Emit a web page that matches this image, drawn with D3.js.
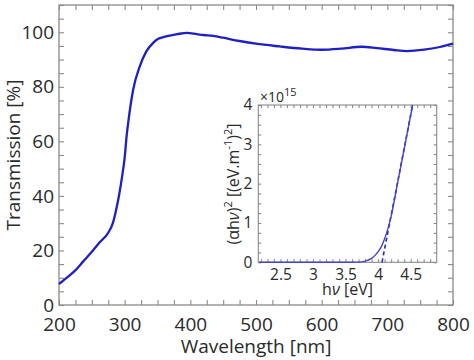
<!DOCTYPE html>
<html><head><meta charset="utf-8">
<script src="https://cdn.jsdelivr.net/npm/d3@7"></script>
<style>body{margin:0;background:#fff}svg{display:block}text{font-family:"Open Sans",sans-serif;fill:#2a2a2a}</style>
</head><body><svg id="c" width="474" height="360"></svg>
<script>
// Main transmission spectrum
const wavelength = [200,212,224,237,250,262,275,282,288,292,296,300,303,306,313,323,333,343,351,360,369,380,395,410,420,435,450,475,500,536,570,600,630,661,684,710,730,756,780,800];
const transmission = [7.7,10,12.5,16,19.5,23,26.5,30,36,41,47,54,62,68,79,87.5,93,96,97.6,98.3,98.8,99.3,99.8,99.3,99,98.7,98,96.8,95.8,94.8,94,93.6,94,94.7,94.2,93.5,93.1,93.6,94.6,95.8];
const xTickLabels = [200,300,400,500,600,700,800];
const yTickLabels = [0,20,40,60,80,100];
// Inset Tauc plot (units of 1e15)
const energy = [2.17,2.5,3.0,3.5,3.6,3.7,3.8,3.9,3.95,4.0,4.05,4.1,4.15,4.2,4.3,4.4,4.53];
const tauc = [0,0,0,0,0.001,0.005,0.03,0.1,0.17,0.27,0.4,0.6,0.85,1.17,2.02,2.88,4.0];
const fitEnergy = [4.06,4.53];
const fitValue = [0,4.0];
const insetXTicks = [2.5,3,3.5,4,4.5];
const insetYTicks = [0,1,2,3,4];

const svg = d3.select("#c");
const axisColor = "#8a8a8a";

// ---------- main plot ----------
const x = d3.scaleLinear().domain([200,800]).range([59,453]);
const y = d3.scaleLinear().domain([0,110]).range([305,5]);
const xMinor = d3.range(200,801,25);
const yMinor = d3.range(0,111,5);

svg.append("rect").attr("x",59).attr("y",5).attr("width",394).attr("height",300)
  .attr("fill","none").attr("stroke",axisColor).attr("stroke-width",1.3);

function styleAxis(g){
  g.select(".domain").remove();
  g.selectAll(".tick line").attr("stroke",axisColor).attr("stroke-width",1.1);
}
const fmtX = d => xTickLabels.includes(d) ? d : "";
const fmtY = d => yTickLabels.includes(d) ? d : "";

svg.append("g").attr("transform","translate(0,305)")
  .call(d3.axisBottom(x).tickValues(xMinor).tickSize(-5).tickPadding(13).tickFormat(fmtX))
  .call(styleAxis).call(g=>g.selectAll("text").attr("font-size",19).style("font-family","Open Sans"));
svg.append("g").attr("transform","translate(0,5)")
  .call(d3.axisTop(x).tickValues(xMinor).tickSize(-5).tickFormat(""))
  .call(styleAxis);
svg.append("g").attr("transform","translate(59,0)")
  .call(d3.axisLeft(y).tickValues(yMinor).tickSize(-5).tickPadding(5).tickFormat(fmtY))
  .call(styleAxis).call(g=>g.selectAll("text").attr("font-size",19).style("font-family","Open Sans"));
svg.append("g").attr("transform","translate(453,0)")
  .call(d3.axisRight(y).tickValues(yMinor).tickSize(-5).tickFormat(""))
  .call(styleAxis);

svg.append("path").datum(d3.zip(wavelength,transmission))
  .attr("fill","none").attr("stroke","#1f1fc4").attr("stroke-width",2.3)
  .attr("d", d3.line().x(d=>x(d[0])).y(d=>y(d[1])).curve(d3.curveMonotoneX));

svg.append("text").attr("x",256).attr("y",352.5).attr("text-anchor","middle")
  .attr("font-size",19).text("Wavelength [nm]");
svg.append("text").attr("transform","translate(20,155) rotate(-90)").attr("text-anchor","middle")
  .attr("font-size",19).text("Transmission [%]");

// ---------- inset ----------
const ix = d3.scaleLinear().domain([2.16,4.9]).range([258.3,436.7]);
const iy = d3.scaleLinear().domain([0,4]).range([262.3,105]);
const ixMinor = d3.range(22,49).map(v=>v/10);
const iyMinor = d3.range(0,17).map(v=>v/4);

svg.append("rect").attr("x",258.3).attr("y",105).attr("width",178.4).attr("height",157.3)
  .attr("fill","#fff").attr("stroke",axisColor).attr("stroke-width",1.1);

const near = (a,b)=>Math.abs(a-b)<1e-6;
svg.append("g").attr("transform","translate(0,262.3)")
  .call(d3.axisBottom(ix).tickValues(ixMinor).tickSize(-3).tickPadding(6.5)
    .tickFormat(d => insetXTicks.some(t=>near(t,d)) ? d3.format("~g")(d) : ""))
  .call(styleAxis).call(g=>g.selectAll("text").attr("font-size",15.5).style("font-family","Open Sans"));
svg.append("g").attr("transform","translate(0,105)")
  .call(d3.axisTop(ix).tickValues(ixMinor).tickSize(-3).tickFormat(""))
  .call(styleAxis);
svg.append("g").attr("transform","translate(258.3,0)")
  .call(d3.axisLeft(iy).tickValues(iyMinor).tickSize(-3).tickPadding(6)
    .tickFormat(d => insetYTicks.some(t=>near(t,d)) ? d : ""))
  .call(styleAxis).call(g=>g.selectAll("text").attr("font-size",15.5).style("font-family","Open Sans"));
svg.append("g").attr("transform","translate(436.7,0)")
  .call(d3.axisRight(iy).tickValues(iyMinor).tickSize(-3).tickFormat(""))
  .call(styleAxis);

svg.append("path").datum(d3.zip(fitEnergy,fitValue))
  .attr("fill","none").attr("stroke","#2a2ab0").attr("stroke-width",1.6).attr("stroke-dasharray","4,3")
  .attr("d", d3.line().x(d=>ix(d[0])).y(d=>iy(d[1])));
svg.append("path").datum(d3.zip(energy,tauc))
  .attr("fill","none").attr("stroke","#4646cc").attr("stroke-width",1.4)
  .attr("d", d3.line().x(d=>ix(d[0])).y(d=>iy(d[1])).curve(d3.curveMonotoneX));

// exponent
const ex = svg.append("text").attr("x",260).attr("y",102).attr("font-size",14);
ex.append("tspan").text("×10");
ex.append("tspan").attr("font-size",11).attr("dy",-6).text("15");

// inset labels
const xl = svg.append("text").attr("x",347.5).attr("y",294.5).attr("text-anchor","middle").attr("font-size",16);
xl.append("tspan").text("h");
xl.append("tspan").attr("font-style","italic").text("ν");
xl.append("tspan").text(" [eV]");

const yl = svg.append("text").attr("transform","translate(239,184) rotate(-90)").attr("text-anchor","middle").attr("font-size",16);
yl.append("tspan").text("(α");
yl.append("tspan").text("h");
yl.append("tspan").attr("font-style","italic").text("ν");
yl.append("tspan").text(")");
yl.append("tspan").attr("font-size",11).attr("dy",-7).text("2");
yl.append("tspan").attr("dy",7).text(" [(eV.m");
yl.append("tspan").attr("font-size",11).attr("dy",-7).text("-1");
yl.append("tspan").attr("dy",7).text(")");
yl.append("tspan").attr("font-size",11).attr("dy",-7).text("2");
yl.append("tspan").attr("dy",7).text("]");
</script></body></html>
